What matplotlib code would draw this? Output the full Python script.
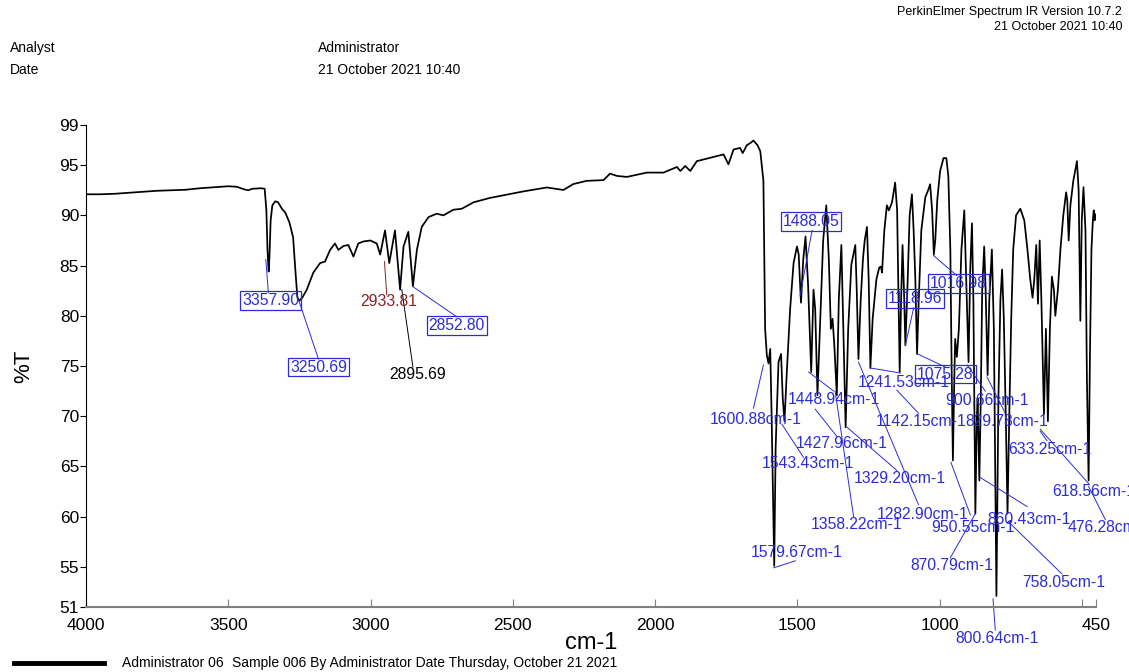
import matplotlib
matplotlib.use("Agg")
import matplotlib.pyplot as plt

plt.rcParams['font.family'] = ['Liberation Sans', 'DejaVu Sans']

# spectre (cm-1, %T)
wavenumber = [4000, 3950, 3900, 3850, 3800, 3750, 3700, 3650, 3600, 3550, 3500, 3470, 3445, 3430, 3415, 3385, 3372,
              3366, 3362, 3358, 3355, 3351, 3345, 3335, 3325, 3310, 3300, 3285, 3272, 3264, 3257, 3250, 3240, 3224,
              3201, 3177, 3160, 3142, 3125, 3113, 3095, 3078, 3060, 3043, 3025, 3001, 2978, 2966, 2949, 2934, 2914,
              2896, 2884, 2867, 2851, 2837, 2820, 2796, 2767, 2744, 2709, 2679, 2638, 2580, 2521, 2462, 2380, 2322,
              2287, 2240, 2181, 2158, 2134, 2099, 2029, 1970, 1923, 1911, 1894, 1876, 1853, 1759, 1742, 1724, 1701,
              1692, 1677, 1665, 1654, 1640, 1630,
              1619, 1613, 1607, 1601, 1595, 1590, 1581, 1576, 1566, 1557, 1551, 1545, 1536, 1525, 1513, 1501, 1495,
              1487, 1479, 1471, 1462, 1451, 1446, 1443, 1437, 1429, 1419, 1409, 1398, 1389, 1382, 1376, 1370, 1361,
              1354, 1345, 1338, 1330, 1321, 1310, 1296, 1291, 1285, 1277, 1269, 1263, 1255, 1249, 1243, 1235, 1222,
              1212, 1206, 1202, 1194, 1185, 1178, 1167, 1156, 1149, 1140, 1135, 1130, 1125, 1120, 1113, 1105, 1097,
              1091, 1085, 1079, 1073, 1064, 1050, 1040, 1033, 1026, 1020, 1015, 1008, 998, 986, 976, 969, 962, 957,
              953, 948, 945, 939, 932, 923, 913, 906, 898, 892, 886, 881, 874, 869, 866, 860, 855, 850, 843, 838, 831,
              825, 816, 809, 800, 793, 786, 780, 774, 767, 761, 755, 748, 741, 731, 716, 702, 691, 681, 673, 667, 660,
              654, 648, 642, 633, 626, 619, 612, 605, 598, 593, 584, 575, 565, 555, 551, 546, 540, 530, 517, 511, 505,
              500, 494, 487, 482, 476, 471, 466, 461, 458, 455, 451]
transmittance = [92.1, 92.1, 92.15, 92.25, 92.35, 92.45, 92.5, 92.55, 92.7, 92.8, 92.9, 92.85, 92.6, 92.5, 92.65, 92.7,
                 92.65, 90.5, 86.5, 84.4, 86.0, 89.5, 91.0, 91.4, 91.3, 90.6, 90.3, 89.3, 87.8, 84.5, 81.8, 81.5, 81.8,
                 82.6, 84.3, 85.25, 85.4, 86.56, 87.2, 86.56, 86.95, 87.05, 85.9, 87.2, 87.4, 87.5, 87.2, 86.1, 88.5,
                 85.25, 88.5, 82.6, 86.9, 88.36, 82.95, 86.56, 88.85, 89.83, 90.17, 90.0, 90.56, 90.66, 91.3, 91.74,
                 92.06, 92.39, 92.78, 92.53, 93.12, 93.44, 93.51, 94.16, 93.93, 93.83, 94.26, 94.26, 94.82, 94.42,
                 94.92, 94.42, 95.4, 96.07, 95.08, 96.56, 96.72, 96.2, 97.0, 97.2, 97.45, 97.0, 96.4,
                 93.44, 78.7, 76.07, 75.25, 76.7, 69.8, 55.1, 66.9, 75.4, 76.2, 71.8, 69.5, 74.8, 80.7, 85.25, 86.9,
                 86.1, 81.3, 85.6, 87.9, 83.1, 74.4, 79.7, 82.6, 80.7, 72.1, 79.7, 87.5, 91.0, 85.6, 78.7, 79.7, 77.2,
                 72.1, 81.6, 87.05, 78.7, 68.9, 78.7, 85.1, 87.05, 82.6, 75.7, 81.6, 85.7, 87.5, 88.85, 83.6, 74.8,
                 79.7, 83.6, 84.8, 84.9, 84.3, 88.5, 91.0, 90.5, 91.3, 93.27, 90.5, 74.4, 81.6, 87.05, 82.6, 77.05,
                 82.6, 90.0, 92.1, 88.5, 83.6, 76.2, 81.6, 88.5, 91.8, 92.5, 93.1, 90.5, 86.1, 87.5, 91.5, 94.4, 95.7,
                 95.7, 93.9, 86.6, 73.8, 65.6, 73.8, 77.7, 75.9, 78.7, 86.6, 90.5, 83.6, 75.4, 84.6, 89.2, 81.6, 60.3,
                 69.8, 71.8, 63.6, 71.8, 82.6, 86.9, 82.6, 74.1, 81.6, 86.6, 78.7, 52.1, 71.8, 81.6, 84.6, 79.7, 69.8,
                 60.3, 69.8, 79.7, 86.6, 90.0, 90.66, 89.5, 86.6, 83.6, 81.8, 83.6, 87.05, 81.2, 87.5, 81.6, 70.2,
                 78.7, 69.5, 78.7, 83.9, 82.6, 80.0, 82.6, 86.6, 90.0, 92.3, 91.5, 87.5, 91.0, 93.4, 95.4, 92.5, 79.5,
                 89.5, 92.8, 88.5, 73.8, 63.6, 76.7, 86.6, 89.5, 90.5, 89.5, 90.1]

# etiquettes des pics
peak_text = ["3357.90", "3250.69", "2933.81", "2895.69", "2852.80", "1488.05", "1118.96", "1016.98", "1075.28",
             "1600.88cm-1", "1543.43cm-1", "1448.94cm-1", "1427.96cm-1", "1329.20cm-1", "1358.22cm-1",
             "1282.90cm-1", "1241.53cm-1", "1142.15cm-1", "900.66cm-1", "829.78cm-1", "633.25cm-1",
             "618.56cm-1", "476.28cm-1", "860.43cm-1", "950.55cm-1", "870.79cm-1", "758.05cm-1", "800.64cm-1",
             "1579.67cm-1"]
peak_kind = ["box", "box", "red", "black", "box", "box", "box", "box", "box"] + ["plain"] * 20

# placement : (x texte, y texte, x1, y1, x2, y2)
label_pos = [
    (3351, 81.5, 3359, 82.3, 3368, 85.6),
    (3182, 74.9, 3183, 75.7, 3253, 81.6),
    (2935, 81.4, 2943, 82.1, 2951, 85.4),
    (2834, 74.2, 2851, 74.9, 2890, 82.6),
    (2697, 79.0, 2697, 79.9, 2851, 82.9),
    (1451, 89.4, 1448, 88.5, 1490, 82.0),
    (1085, 81.7, 1091, 80.8, 1120, 77.05),
    (934, 83.2, 939, 84.0, 1021, 86.0),
    (979, 74.2, 980, 74.9, 1077, 76.2),
    (1645, 69.7, 1654, 70.8, 1619, 75.1),
    (1463, 65.3, 1478, 65.9, 1554, 69.2),
    (1370, 71.7, 1372, 72.5, 1460, 74.4),
    (1345, 67.3, 1361, 68.0, 1437, 70.7),
    (1141, 63.8, 1150, 64.6, 1325, 68.9),
    (1293, 59.2, 1302, 60.0, 1367, 72.5),
    (1059, 60.2, 1074, 61.2, 1285, 75.4),
    (1126, 73.4, 1138, 74.3, 1243, 74.8),
    (1065, 69.5, 1074, 70.3, 1150, 72.6),
    (833, 71.6, 839, 72.5, 903, 75.1),
    (764, 69.5, 769, 70.3, 833, 73.9),
    (611, 66.7, 622, 67.55, 646, 68.5),
    (604, 62.5, 476, 63.3, 646, 68.7),
    (551, 58.9, 417, 59.7, 476, 63.0),
    (687, 59.7, 692, 61.0, 857, 63.9),
    (883, 58.9, 892, 60.2, 960, 65.4),
    (956, 55.1, 962, 55.9, 874, 60.3),
    (564, 53.4, 570, 54.3, 758, 59.5),
    (798, 47.9, 804, 48.7, 812, 51.8),
    (1501, 56.4, 1507, 55.6, 1583, 54.9),
]

blue = '#2b2bd9'
fig = plt.figure(figsize=(11.29, 6.72), dpi=100)
ax = fig.add_axes([86 / 1129, 65 / 672, 1010 / 1129, 482 / 672])

ax.plot(wavenumber, transmittance, color='black', lw=1.25)

for txt, kind, pos in zip(peak_text, peak_kind, label_pos):
    tx, ty, x1, y1, x2, y2 = pos
    col = blue
    if kind == 'red':
        col = '#8b2323'
    elif kind == 'black':
        col = 'black'
    ax.plot([x1, x2], [y1, y2], color=col, lw=0.7, clip_on=False)
    ha = 'center'
    if txt in ("618.56cm-1", "476.28cm-1"):
        ha = 'left'
    bb = None
    if kind == 'box':
        bb = dict(boxstyle='square,pad=0.12', fc='none', ec=col, lw=0.9)
    ax.text(tx, ty, txt, color=col, fontsize=11.3, ha=ha, va='center', bbox=bb, clip_on=False)

ax.set_xlim(4000, 450)
ax.set_ylim(51, 99)
ax.set_xticks([4000, 3500, 3000, 2500, 2000, 1500, 1000, 500, 450])
ax.set_xticklabels(['4000', '3500', '3000', '2500', '2000', '1500', '1000', '', '450'])
ax.set_yticks([51, 55, 60, 65, 70, 75, 80, 85, 90, 95, 99])
ax.tick_params(axis='x', direction='in', length=6, color='#808080', labelsize=12.5, pad=8)
ax.tick_params(axis='y', direction='out', length=4, labelsize=12.5, pad=1)
for s in ['top', 'right']:
    ax.spines[s].set_visible(False)
ax.spines['bottom'].set_color('#808080')
ax.spines['bottom'].set_linewidth(1.5)
ax.set_ylabel('%T', fontsize=16, labelpad=18)
ax.set_xlabel('cm-1', fontsize=17, labelpad=-1)

# en-tete et pied de page
fig.text(1122 / 1129, 1 - 12 / 672, 'PerkinElmer Spectrum IR Version 10.7.2', ha='right', va='center', fontsize=9)
fig.text(1122 / 1129, 1 - 27 / 672, '21 October 2021 10:40', ha='right', va='center', fontsize=9)
fig.text(10 / 1129, 1 - 48 / 672, 'Analyst', va='center', fontsize=10)
fig.text(10 / 1129, 1 - 70 / 672, 'Date', va='center', fontsize=10)
fig.text(318 / 1129, 1 - 48 / 672, 'Administrator', va='center', fontsize=10)
fig.text(318 / 1129, 1 - 70 / 672, '21 October 2021 10:40', va='center', fontsize=10)
fig.add_artist(plt.Line2D([14 / 1129, 104 / 1129], [1 - 663 / 672, 1 - 663 / 672], color='black', lw=3.5))
fig.text(122 / 1129, 1 - 663 / 672, 'Administrator 06', va='center', fontsize=10)
fig.text(232 / 1129, 1 - 663 / 672, 'Sample 006 By Administrator Date Thursday, October 21 2021', va='center', fontsize=10)

fig.savefig('out.png', dpi=100)
